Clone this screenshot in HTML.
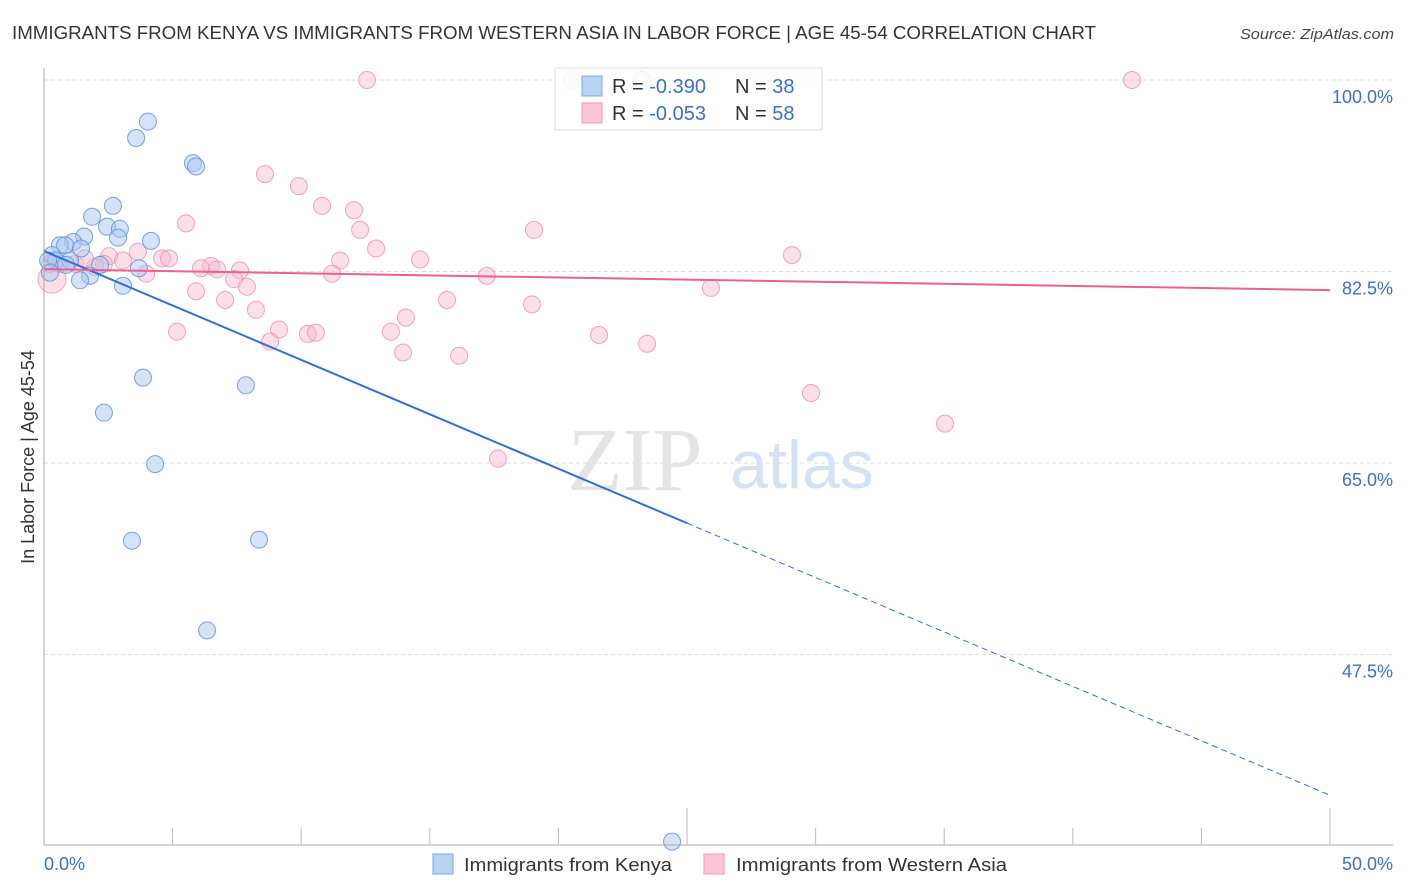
<!DOCTYPE html>
<html><head><meta charset="utf-8"><style>
body{margin:0;background:#fff;font-family:"Liberation Sans",sans-serif}
svg{display:block}
</style></head><body>
<svg id="chart" width="1406" height="892">
<text x="12" y="39" font-size="18" fill="#333" textLength="1084" lengthAdjust="spacingAndGlyphs">IMMIGRANTS FROM KENYA VS IMMIGRANTS FROM WESTERN ASIA IN LABOR FORCE | AGE 45-54 CORRELATION CHART</text>
<text x="1394" y="39" font-size="15" font-style="italic" fill="#444" text-anchor="end" textLength="154" lengthAdjust="spacingAndGlyphs">Source: ZipAtlas.com</text>
<g id="grid"></g>
<text x="635" y="490" font-size="90" font-family="Liberation Serif,serif" fill="#e4e4e4" text-anchor="middle">ZIP</text>
<text x="802" y="488" font-size="68" fill="#d4e2f4" text-anchor="middle">atlas</text>
<g id="pts"></g>
<g id="lines"></g>
<line x1="44" y1="68" x2="44" y2="845" stroke="#aaa"/>
<line x1="44" y1="845" x2="1393" y2="845" stroke="#aaa"/>
<g id="ticks"></g>
<text transform="translate(34,457) rotate(-90)" font-size="18" fill="#333" text-anchor="middle">In Labor Force | Age 45-54</text>
<text x="44" y="870" font-size="18" fill="#3a6fd0">0.0%</text>
<text x="1393" y="870" font-size="18" fill="#3a6fd0" text-anchor="end">50.0%</text>
<g>
<rect x="555" y="68" width="267" height="62" fill="#fff" fill-opacity="0.85" stroke="#ddd"/>
<rect x="582" y="76" width="20" height="20" fill="#b9d3f5" stroke="#7aa7e6"/>
<rect x="582" y="103" width="20" height="20" fill="#fcc6d6" stroke="#ee9ab4"/>
<text x="612" y="93" font-size="20" fill="#333">R = <tspan fill="#3a6fd0">-0.390</tspan><tspan x="735">N = </tspan><tspan fill="#3a6fd0">38</tspan></text>
<text x="612" y="120" font-size="20" fill="#333">R = <tspan fill="#3a6fd0">-0.053</tspan><tspan x="735">N = </tspan><tspan fill="#3a6fd0">58</tspan></text>
</g>
<g>
<rect x="433" y="854" width="20" height="20" fill="#b9d3f5" stroke="#7aa7e6"/>
<text x="464" y="871" font-size="18" fill="#333" textLength="208" lengthAdjust="spacingAndGlyphs">Immigrants from Kenya</text>
<rect x="704" y="854" width="20" height="20" fill="#fcc6d6" stroke="#ee9ab4"/>
<text x="736" y="871" font-size="18" fill="#333" textLength="271" lengthAdjust="spacingAndGlyphs">Immigrants from Western Asia</text>
</g>
</svg>
<script>
const yTicks=[100,82.5,65,47.5];
const yTickLabels=["100.0%","82.5%","65.0%","47.5%"];
const xTicks=[5,10,15,20,25,30,35,40,45,50];
const kenyaX=[4.04,3.58,5.79,5.91,2.68,1.87,2.45,2.95,2.88,4.16,1.56,1.13,0.62,0.82,1.44,0.31,0.47,1.01,2.18,0.86,3.69,1.79,1.40,3.07,3.85,7.85,2.33,4.32,3.42,8.36,6.34,24.42,23.25,0.16,0.23];
const kenyaY=[96.2,94.7,92.4,92.1,88.5,87.5,86.6,86.4,85.6,85.3,85.7,85.2,84.9,84.9,84.6,84.0,83.5,83.5,83.1,83.1,82.8,82.1,81.7,81.2,72.8,72.1,69.6,64.9,57.9,58.0,49.7,30.4,100,83.5,82.4];
const asiaX=[12.56,42.30,20.53,8.59,9.91,10.81,12.05,5.52,12.29,19.05,12.91,29.08,3.65,2.53,14.62,11.51,4.59,4.86,3.07,6.49,6.10,6.73,7.62,2.33,11.20,17.22,3.97,7.39,7.89,5.91,25.93,15.67,7.04,18.97,8.24,14.07,9.14,5.17,10.26,10.57,13.49,21.58,8.79,23.45,13.96,16.14,29.82,35.03,17.65,0.31,0.23,0.62,1.21,1.98,1.59];
const asiaY=[100,100,100,91.4,90.3,88.5,88.1,86.9,86.3,86.3,84.6,84.0,84.3,83.9,83.6,83.5,83.7,83.7,83.5,83.0,82.8,82.7,82.6,83.2,82.3,82.1,82.3,81.8,81.1,80.7,81.0,79.9,79.9,79.5,79.0,78.3,77.2,77.0,76.8,76.9,77.0,76.7,76.1,75.9,75.1,74.8,71.4,68.6,65.4,81.8,83.2,83.2,83.2,82.9,83.7];
const kenyaTrend=[84.37,34.64];
const asiaTrend=[82.72,80.8];
const NS='http://www.w3.org/2000/svg';
const X=v=>44+(v/50)*1286;
const Y=v=>80+(100-v)*10.943;
function mk(tag,attrs,parent){const e=document.createElementNS(NS,tag);for(const k in attrs)e.setAttribute(k,attrs[k]);document.getElementById(parent).appendChild(e);return e;}
yTicks.forEach((t,i)=>{
 const l=mk('line',{x1:44,x2:1393,y1:Y(t),y2:Y(t),stroke:'#ddd','stroke-dasharray':'4,3'},'grid');
 
 
 const tx=mk('text',{x:1393,y:Y(t)+23,'font-size':18,fill:'#3a6fd0','text-anchor':'end'},'grid');
 tx.textContent=yTickLabels[i];
 
 
});
xTicks.forEach(t=>{
 const tall=(t===25||t===50);
 const l=mk('line',{x1:X(t),x2:X(t),y1:tall?808:828,y2:845,stroke:'#bbb'},'ticks');
 
 
});
asiaX.forEach((v,i)=>{
 const c=mk('circle',{cx:X(v),cy:Y(asiaY[i]),r:(i===49?14:8.5),fill:'#f9b8cc','fill-opacity':0.45,stroke:'#ee8fae','stroke-opacity':0.8},'pts');
 
 
});
kenyaX.forEach((v,i)=>{
 const c=mk('circle',{cx:X(v),cy:Y(kenyaY[i]),r:8.5,fill:'#a9c8f0','fill-opacity':0.5,stroke:'#5a8fdc','stroke-opacity':0.8},'pts');
 
 
});
const ky=x=>kenyaTrend[0]+(kenyaTrend[1]-kenyaTrend[0])*x/50;
let l=mk('line',{x1:X(0),y1:Y(ky(0)),x2:X(25),y2:Y(ky(25)),stroke:'#2f6fd6','stroke-width':2},'lines');


l=mk('line',{x1:X(25),y1:Y(ky(25)),x2:X(50),y2:Y(ky(50)),stroke:'#2f6fd6','stroke-width':1,'stroke-dasharray':'6,4'},'lines');


l=mk('line',{x1:X(0),y1:Y(asiaTrend[0]),x2:X(50),y2:Y(asiaTrend[1]),stroke:'#e8628e','stroke-width':2},'lines');


</script>
</body></html>
